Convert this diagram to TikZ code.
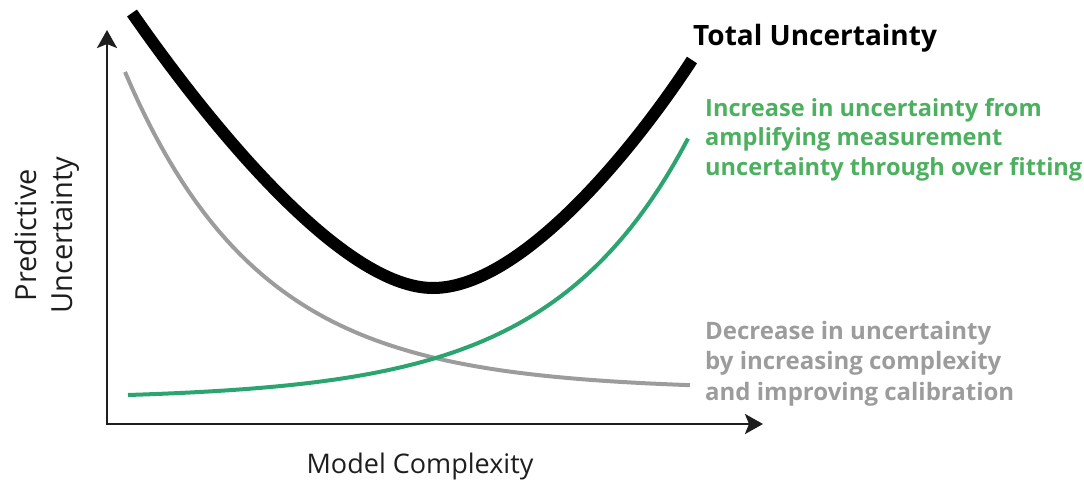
\documentclass[tikz,border=0pt]{standalone}
\usepackage{fontspec}
\setmainfont{Open Sans}
\usetikzlibrary{arrows.meta, positioning}
\definecolor{fitgreen}{HTML}{2BA470}
\definecolor{textgreen}{HTML}{4DB060}
\definecolor{calgray}{HTML}{9C9C9C}
\definecolor{axisgray}{HTML}{1E1E1E}

\begin{document}
\begin{tikzpicture}[x=1pt, y=-1pt,
    axis/.style={line width=2.6pt, axisgray, line join=miter,
      {Stealth[length=18pt,width=20pt,inset=4pt]}-{Stealth[length=18pt,width=20pt,inset=4pt]}},
    total/.style={line width=12pt, black},
    fit/.style={line width=4pt, fitgreen},
    calib/.style={line width=4pt, calgray},
    lbl/.style={anchor=north west, align=left, inner sep=0pt,
      font=\bfseries\fontsize{23.6}{29.5}\selectfont},
    axlbl/.style={inner sep=0pt, align=center, axisgray,
      font=\fontsize{27}{36}\selectfont}]
  \useasboundingbox (0,0) rectangle (1084,490);

  % axes
  \coordinate (O) at (107,424);
  \coordinate (ytip) at (107,30);
  \coordinate (xtip) at (763,424);
  \draw[axis] (ytip) -- (O) -- (xtip);

  % curves
  \draw[calib] plot[domain=125:690, samples=80] (\x, {390-318*exp(-0.0074*(\x-125))});
  \draw[fit] plot[domain=128:688, samples=80] (\x, {395-4.39*(exp(0.0073*(\x-128))-1)});
  \draw[total] (132,13) .. controls (212,128) and (343,288) .. (433,288)
    .. controls (520,288) and (632,152) .. (692,60);

  % labels
  \node[lbl, font=\bfseries\fontsize{28}{30}\selectfont] (tot) at (693,24) {Total Uncertainty};
  \node[lbl, textgreen] (over) at (705,98)
    {Increase in uncertainty from\\amplifying measurement\\uncertainty through over fitting};
  \node[lbl, calgray, font=\bfseries\fontsize{24}{30.5}\selectfont] (cal) at (705,321)
    {Decrease in uncertainty\\by increasing complexity\\and improving calibration};
  \node[axlbl] (xlab) at (420,466) {Model Complexity};
  \node[axlbl, rotate=90, font=\fontsize{29}{36}\selectfont] (ylab) at (47,235) {Predictive\\Uncertainty};
\end{tikzpicture}
\end{document}
